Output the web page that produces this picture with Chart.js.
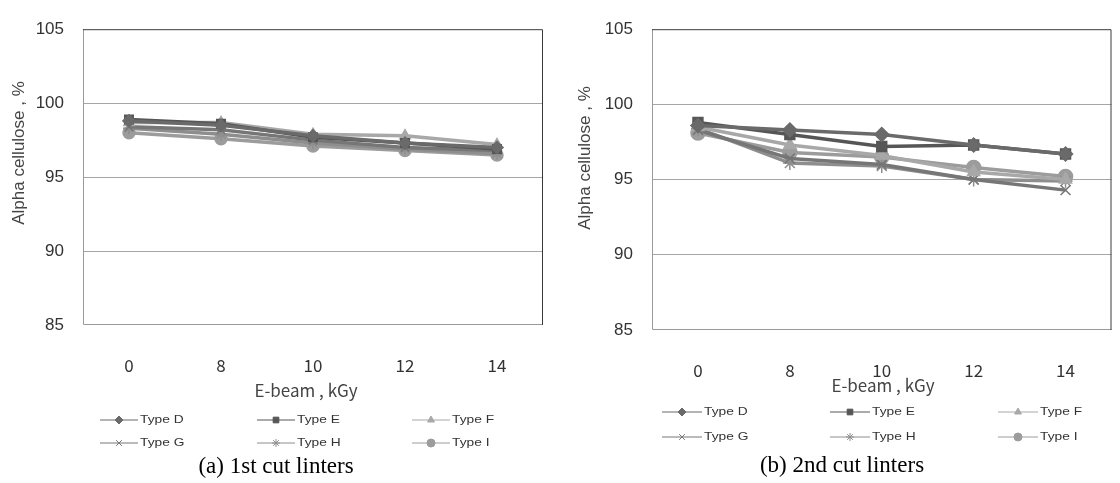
<!DOCTYPE html>
<html>
<head>
<meta charset="utf-8">
<script src="https://cdn.jsdelivr.net/npm/chart.js@4/dist/chart.umd.min.js"></script>
<style>
  html, body { margin: 0; padding: 0; background: #fff; }
  #wrap { position: relative; width: 1120px; height: 483px; overflow: hidden; }
  canvas { position: absolute; top: 0; }
</style>
</head>
<body>
<div id="wrap">
  <canvas id="cut1" width="552" height="483" style="left:0"></canvas>
  <canvas id="cut2" width="564" height="483" style="left:556px"></canvas>
</div>
<script>
// x categories (E-beam dose, kGy) and y ticks
const doses = ["0", "8", "10", "12", "14"];
const yTicks = [85, 90, 95, 100, 105];
const typeNames = ["Type D", "Type E", "Type F", "Type G", "Type H", "Type I"];

// (a) 1st cut linters, alpha cellulose %
const cut1D = [98.8, 98.5, 97.8, 97.3, 97.0];
const cut1E = [98.9, 98.6, 97.7, 97.3, 96.9];
const cut1F = [98.7, 98.7, 97.9, 97.8, 97.2];
const cut1G = [98.4, 98.2, 97.5, 97.0, 96.8];
const cut1H = [98.3, 97.9, 97.3, 96.9, 96.6];
const cut1I = [98.0, 97.6, 97.1, 96.8, 96.5];

// (b) 2nd cut linters
const cut2D = [98.6, 98.3, 98.0, 97.3, 96.7];
const cut2E = [98.8, 98.0, 97.2, 97.3, 96.7];
const cut2F = [98.5, 97.3, 96.6, 95.5, 95.0];
const cut2G = [98.3, 96.4, 96.0, 95.0, 94.3];
const cut2H = [98.4, 96.1, 95.9, 95.0, 94.9];
const cut2I = [98.1, 96.8, 96.5, 95.8, 95.2];

// look of each type
const markers = ["rectRot", "rect", "triangle", "crossRot", "star", "circle"];
const colors = ["#6a6a6a", "#565656", "#a8a8a8", "#767676", "#8e8e8e", "#9c9c9c"];

const decor = {
  id: "decor",
  beforeDatasetsDraw(chart, args, o) {
    const { ctx, chartArea: a } = chart;
    ctx.save();
    ctx.lineWidth = 1;
    ctx.strokeStyle = "#9a9a9a";
    ctx.beginPath();
    ctx.moveTo(a.left + 0.5, a.top);
    ctx.lineTo(a.left + 0.5, a.bottom - 0.5);
    ctx.lineTo(a.right, a.bottom - 0.5);
    ctx.stroke();
    ctx.strokeStyle = "#3a3a3a";
    ctx.beginPath();
    ctx.moveTo(a.left, a.top + 0.5);
    ctx.lineTo(a.right - 0.5, a.top + 0.5);
    ctx.lineTo(a.right - 0.5, a.bottom);
    ctx.stroke();
    ctx.restore();
  },
  afterDraw(chart, args, o) {
    const ctx = chart.ctx;
    ctx.save();
    ctx.textAlign = "center";
    ctx.textBaseline = "middle";

    // y title
    ctx.fillStyle = "#444";
    ctx.font = "17px 'Liberation Sans', Arial, sans-serif";
    ctx.save();
    ctx.translate(o.yTitle[0], o.yTitle[1]);
    ctx.rotate(-Math.PI / 2);
    ctx.fillText("Alpha cellulose , %", 0, 0);
    ctx.restore();

    // x title
    ctx.font = "17px 'Noto Sans CJK KR', 'Noto Sans', sans-serif";
    ctx.fillText("E-beam , kGy", o.xTitle[0], o.xTitle[1]);

    // legend, 3 columns x 2 rows
    chart.data.datasets.forEach((ds, i) => {
      const x = o.legendX[i % 3];
      const y = o.legendY[Math.floor(i / 3)];
      ctx.strokeStyle = ds.borderColor;
      ctx.fillStyle = ds.borderColor;
      ctx.lineWidth = 1;
      ctx.beginPath();
      ctx.moveTo(x, y);
      ctx.lineTo(x + o.lineLen, y);
      ctx.stroke();
      Chart.helpers.drawPoint(ctx, {
        pointStyle: ds.pointStyle, radius: 4, borderWidth: 1, rotation: 0
      }, x + o.lineLen / 2, y);
      ctx.save();
      ctx.fillStyle = "#333";
      ctx.textAlign = "left";
      ctx.font = "11px 'Liberation Sans', Arial, sans-serif";
      ctx.translate(x + o.lineLen + 2, y);
      ctx.scale(1.25, 1);
      ctx.fillText(ds.label, 0, 0);
      ctx.restore();
    });

    // caption
    ctx.fillStyle = "#000";
    ctx.font = "23px 'Liberation Serif', 'Times New Roman', serif";
    ctx.fillText(o.caption, o.capPos[0], o.capPos[1]);
    ctx.restore();
  }
};

function makeChart(id, series, geo) {
  new Chart(document.getElementById(id), {
    type: "line",
    data: {
      labels: doses,
      datasets: series.map((vals, i) => ({
        label: typeNames[i],
        data: vals,
        borderColor: colors[i],
        backgroundColor: colors[i],
        borderWidth: 3.5,
        pointStyle: markers[i],
        pointRadius: geo.pointRadius,
        pointBorderWidth: 1.5,
        tension: 0
      }))
    },
    options: {
      responsive: false,
      animation: false,
      layout: { padding: { top: geo.top, right: geo.right, left: 0, bottom: 0 } },
      plugins: {
        legend: { display: false },
        tooltip: { enabled: false },
        decor: geo
      },
      scales: {
        x: {
          type: "category",
          offset: true,
          grid: { display: false, drawTicks: false },
          border: { display: false },
          ticks: {
            padding: 30,
            color: "#333",
            font: { family: "'Noto Sans CJK KR', 'Noto Sans', sans-serif", size: 17 }
          },
          afterFit: s => { s.height = geo.xHeight; }
        },
        y: {
          min: 85,
          max: 105,
          afterBuildTicks: s => { s.ticks = yTicks.map(v => ({ value: v })); },
          grid: {
            drawTicks: false,
            color: c => (c.tick.value === 85 || c.tick.value === 105) ? "rgba(0,0,0,0)" : "#a6a6a6"
          },
          border: { display: false },
          ticks: {
            padding: 19,
            color: "#333",
            font: { family: "'Liberation Sans', Arial, sans-serif", size: 17 }
          },
          afterFit: s => { s.width = geo.yWidth; }
        }
      }
    },
    plugins: [decor]
  });
}

makeChart("cut1", [cut1D, cut1E, cut1F, cut1G, cut1H, cut1I], {
  top: 14, right: 9, yWidth: 83, xHeight: 158, pointRadius: 6,
  yTitle: [19, 153], xTitle: [306, 391],
  legendX: [100, 257, 412], legendY: [420, 443], lineLen: 38,
  caption: "(a) 1st cut linters", capPos: [276, 467]
});

makeChart("cut2", [cut2D, cut2E, cut2F, cut2G, cut2H, cut2I], {
  top: 11, right: 1, yWidth: 96, xHeight: 153, pointRadius: 7,
  yTitle: [29, 158], xTitle: [327, 386],
  legendX: [106, 274, 442], legendY: [412, 437], lineLen: 40,
  caption: "(b) 2nd cut linters", capPos: [286, 466]
});
</script>
</body>
</html>
